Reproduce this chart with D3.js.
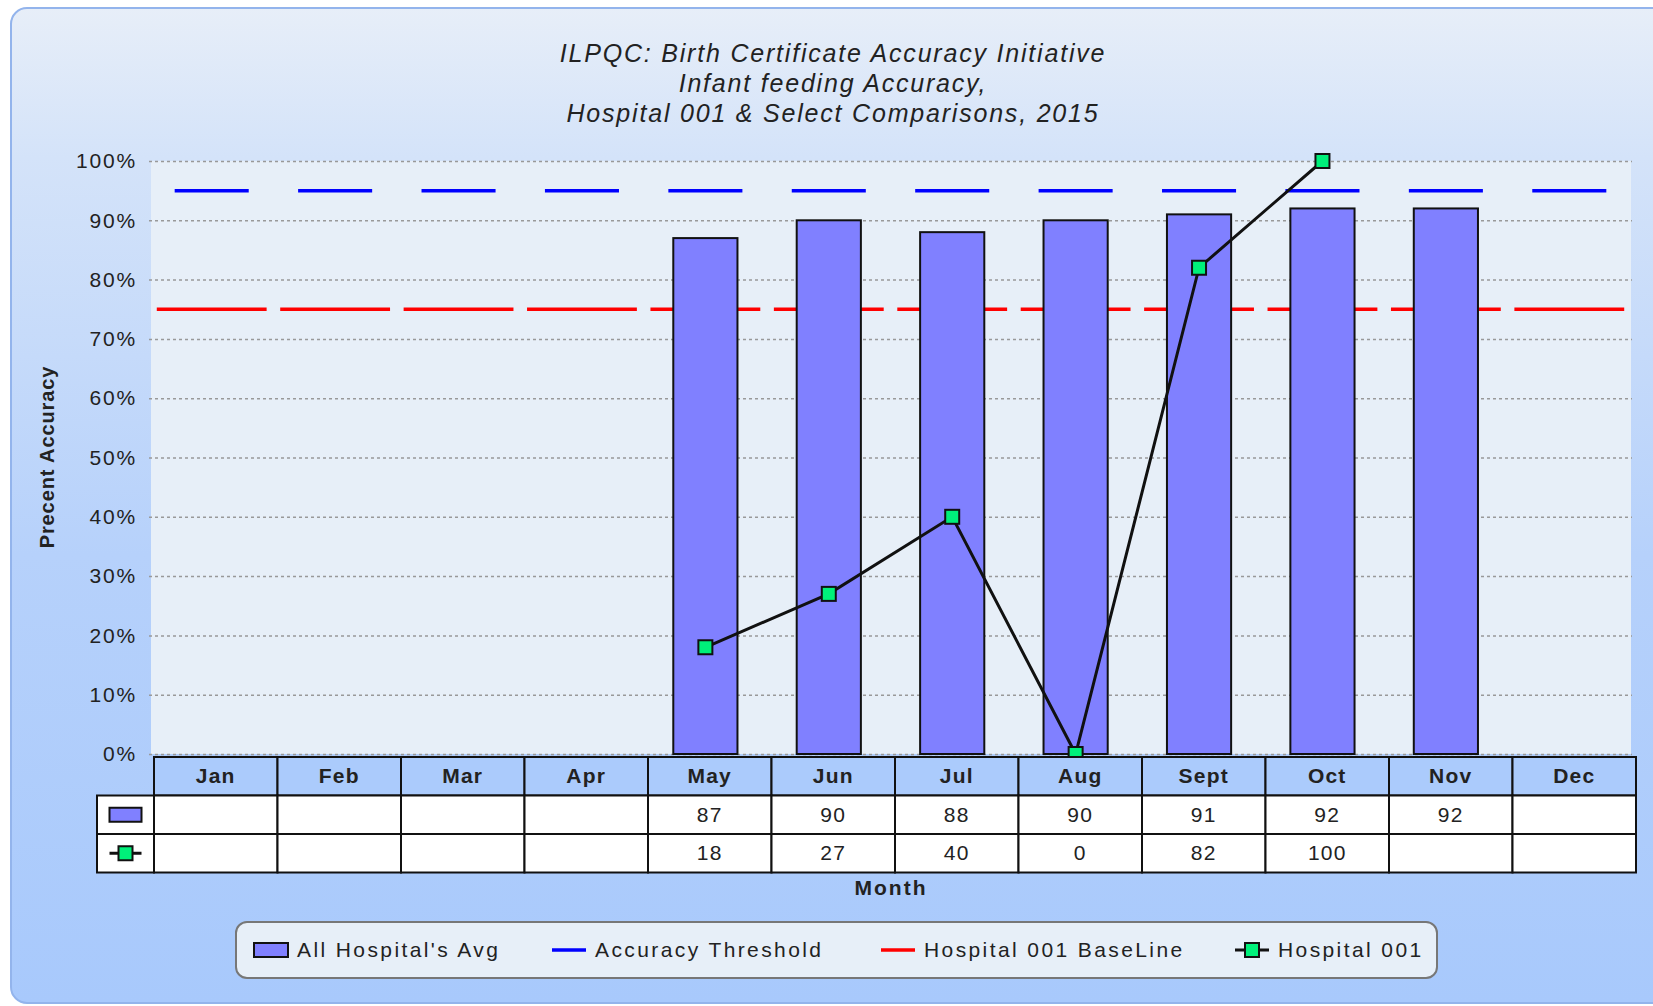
<!DOCTYPE html>
<html>
<head>
<meta charset="utf-8">
<script src="https://cdn.jsdelivr.net/npm/d3@7"></script>
<style>
  body { margin: 0; background: #fff; }
  svg text { font-family: "Liberation Sans", Arial, sans-serif; }
</style>
</head>
<body>
<svg id="chart" width="1653" height="1006"></svg>
<script>
const titleLines = [
  'ILPQC: Birth Certificate Accuracy Initiative',
  'Infant feeding Accuracy,',
  'Hospital 001 & Select Comparisons, 2015'
];
const months = ['Jan', 'Feb', 'Mar', 'Apr', 'May', 'Jun', 'Jul', 'Aug', 'Sept', 'Oct', 'Nov', 'Dec'];
const avgValues = [null, null, null, null, 87, 90, 88, 90, 91, 92, 92, null];
const hospValues = [null, null, null, null, 18, 27, 40, 0, 82, 100, null, null];
const thresholdValue = 95;
const baselineValue = 75;
const yTicks = [0, 10, 20, 30, 40, 50, 60, 70, 80, 90, 100];
const legendLabels = ["All Hospital's Avg", 'Accuracy Threshold', 'Hospital 001 BaseLine', 'Hospital 001'];

const svg = d3.select('#chart');

// background panel
const defs = svg.append('defs');
const grad = defs.append('linearGradient')
  .attr('id', 'panelGrad').attr('x1', 0).attr('y1', 0).attr('x2', 0).attr('y2', 1);
grad.append('stop').attr('offset', '0%').attr('stop-color', '#e7eef8');
grad.append('stop').attr('offset', '15%').attr('stop-color', '#d4e3f9');
grad.append('stop').attr('offset', '55%').attr('stop-color', '#b6d1fb');
grad.append('stop').attr('offset', '100%').attr('stop-color', '#a8c9fc');

svg.append('rect')
  .attr('x', 11).attr('y', 8)
  .attr('width', 1670).attr('height', 995)
  .attr('rx', 16)
  .attr('fill', 'url(#panelGrad)')
  .attr('stroke', '#93b4ec').attr('stroke-width', 2);

// title
svg.append('g')
  .selectAll('text')
  .data(titleLines)
  .join('text')
    .attr('x', 833)
    .attr('y', (d, i) => 62 + i * 30)
    .attr('text-anchor', 'middle')
    .attr('font-style', 'italic')
    .attr('font-size', 25)
    .attr('letter-spacing', 1.8)
    .attr('fill', '#222')
    .text(d => d);

// scales
const x = d3.scaleBand().domain(months).range([150, 1631]);
const xt = d3.scaleBand().domain(months).range([154, 1636]);
const y = d3.scaleLinear().domain([0, 100]).range([754, 161]);

// plot area
svg.append('rect')
  .attr('x', 151).attr('y', y(100))
  .attr('width', 1480).attr('height', y(0) - y(100))
  .attr('fill', '#e7eff8');

// grid + y axis
const yAxis = g => g
  .attr('transform', 'translate(149,0)')
  .call(d3.axisLeft(y).tickValues(yTicks).tickFormat(d => d + '%').tickSize(-1483).tickPadding(12))
  .call(g => g.select('.domain').remove())
  .call(g => g.selectAll('.tick line')
    .attr('stroke', '#999').attr('stroke-width', 1.5).attr('stroke-dasharray', '3,3'))
  .call(g => g.selectAll('.tick text')
    .attr('font-size', 21).attr('letter-spacing', 1.8).attr('fill', '#222')
    .attr('font-family', '"Liberation Sans", Arial, sans-serif'));
svg.append('g').call(yAxis);

// threshold / baseline dashes, one per month
svg.append('g')
  .selectAll('line')
  .data(months)
  .join('line')
    .attr('x1', d => x(d) + x.bandwidth() * 0.2)
    .attr('x2', d => x(d) + x.bandwidth() * 0.8)
    .attr('y1', y(thresholdValue)).attr('y2', y(thresholdValue))
    .attr('stroke', '#0000ff').attr('stroke-width', 3.5);

svg.append('g')
  .selectAll('line')
  .data(months)
  .join('line')
    .attr('x1', d => x(d) + x.bandwidth() * 0.055)
    .attr('x2', d => x(d) + x.bandwidth() * 0.945)
    .attr('y1', y(baselineValue)).attr('y2', y(baselineValue))
    .attr('stroke', '#ff0000').attr('stroke-width', 3.5);

// bars
const barW = x.bandwidth() * 0.52;
svg.append('g')
  .selectAll('rect')
  .data(months.map((m, i) => ({ m, v: avgValues[i] })).filter(d => d.v !== null))
  .join('rect')
    .attr('x', d => x(d.m) + (x.bandwidth() - barW) / 2)
    .attr('width', barW)
    .attr('y', d => y(d.v))
    .attr('height', d => y(0) - y(d.v))
    .attr('fill', '#8080ff')
    .attr('stroke', '#111').attr('stroke-width', 2);

// hospital line
const hospData = months.map((m, i) => ({ m, v: hospValues[i] })).filter(d => d.v !== null);
svg.append('path')
  .datum(hospData)
  .attr('fill', 'none')
  .attr('stroke', '#111').attr('stroke-width', 3)
  .attr('d', d3.line().x(d => x(d.m) + x.bandwidth() / 2).y(d => y(d.v)));

svg.append('g')
  .selectAll('rect')
  .data(hospData)
  .join('rect')
    .attr('x', d => x(d.m) + x.bandwidth() / 2 - 7)
    .attr('y', d => y(d.v) - 7)
    .attr('width', 14).attr('height', 14)
    .attr('fill', '#00f07a')
    .attr('stroke', '#111').attr('stroke-width', 2);

// data table
const headTop = 757, rowH = 38.5;
const iconX = 97;
const table = svg.append('g');

table.selectAll('rect.head')
  .data(months)
  .join('rect')
    .attr('class', 'head')
    .attr('x', d => xt(d)).attr('y', headTop)
    .attr('width', xt.bandwidth()).attr('height', rowH)
    .attr('fill', '#abcbfc').attr('stroke', '#111').attr('stroke-width', 2);

table.selectAll('text.head')
  .data(months)
  .join('text')
    .attr('class', 'head')
    .attr('x', d => xt(d) + xt.bandwidth() / 2)
    .attr('y', headTop + rowH / 2 + 7)
    .attr('text-anchor', 'middle')
    .attr('font-weight', 'bold').attr('font-size', 21).attr('letter-spacing', 1.2)
    .attr('fill', '#222')
    .text(d => d);

const rows = [avgValues, hospValues];
rows.forEach((vals, r) => {
  const ry = headTop + rowH * (r + 1);
  table.append('rect')
    .attr('x', iconX).attr('y', ry)
    .attr('width', xt(months[0]) - iconX).attr('height', rowH)
    .attr('fill', '#fff').attr('stroke', '#111').attr('stroke-width', 2);
  table.append('g')
    .selectAll('rect')
    .data(months)
    .join('rect')
      .attr('x', d => xt(d)).attr('y', ry)
      .attr('width', xt.bandwidth()).attr('height', rowH)
      .attr('fill', '#fff').attr('stroke', '#111').attr('stroke-width', 2);
  table.append('g')
    .selectAll('text')
    .data(months.map((m, i) => ({ m, v: vals[i] })).filter(d => d.v !== null))
    .join('text')
      .attr('x', d => xt(d.m) + xt.bandwidth() / 2)
      .attr('y', ry + rowH / 2 + 7)
      .attr('text-anchor', 'middle')
      .attr('font-size', 21).attr('letter-spacing', 1.2)
      .attr('fill', '#222')
      .text(d => d.v);
});

// table row icons
const iconCx = (iconX + xt(months[0])) / 2;
table.append('rect')
  .attr('x', iconCx - 16).attr('y', headTop + rowH * 1.5 - 7)
  .attr('width', 32).attr('height', 14)
  .attr('fill', '#8080ff').attr('stroke', '#111').attr('stroke-width', 2);
table.append('line')
  .attr('x1', iconCx - 16).attr('x2', iconCx + 16)
  .attr('y1', headTop + rowH * 2.5).attr('y2', headTop + rowH * 2.5)
  .attr('stroke', '#111').attr('stroke-width', 3);
table.append('rect')
  .attr('x', iconCx - 7).attr('y', headTop + rowH * 2.5 - 7)
  .attr('width', 14).attr('height', 14)
  .attr('fill', '#00f07a').attr('stroke', '#111').attr('stroke-width', 2);

// axis titles
svg.append('text')
  .attr('x', 891).attr('y', 895)
  .attr('text-anchor', 'middle')
  .attr('font-weight', 'bold').attr('font-size', 21).attr('letter-spacing', 2)
  .attr('fill', '#222')
  .text('Month');

svg.append('text')
  .attr('transform', 'translate(54,457) rotate(-90)')
  .attr('text-anchor', 'middle')
  .attr('font-weight', 'bold').attr('font-size', 20).attr('letter-spacing', 0.9)
  .attr('fill', '#222')
  .text('Precent Accuracy');

// legend
const legend = svg.append('g');
legend.append('rect')
  .attr('x', 236).attr('y', 922)
  .attr('width', 1201).attr('height', 56)
  .attr('rx', 11)
  .attr('fill', '#e7eff8')
  .attr('stroke', '#777').attr('stroke-width', 2);

const legX = [254, 552, 881, 1235];
const legY = 950;
const items = legend.selectAll('g.item')
  .data(legendLabels)
  .join('g')
    .attr('class', 'item')
    .attr('transform', (d, i) => `translate(${legX[i]},${legY})`);

items.filter((d, i) => i === 0).append('rect')
  .attr('x', 0).attr('y', -7).attr('width', 34).attr('height', 14)
  .attr('fill', '#8080ff').attr('stroke', '#111').attr('stroke-width', 2);
items.filter((d, i) => i === 1).append('line')
  .attr('x1', 0).attr('x2', 34).attr('y1', 0).attr('y2', 0)
  .attr('stroke', '#0000ff').attr('stroke-width', 3.5);
items.filter((d, i) => i === 2).append('line')
  .attr('x1', 0).attr('x2', 34).attr('y1', 0).attr('y2', 0)
  .attr('stroke', '#ff0000').attr('stroke-width', 3.5);
items.filter((d, i) => i === 3).append('line')
  .attr('x1', 0).attr('x2', 34).attr('y1', 0).attr('y2', 0)
  .attr('stroke', '#111').attr('stroke-width', 3);
items.filter((d, i) => i === 3).append('rect')
  .attr('x', 10).attr('y', -7).attr('width', 14).attr('height', 14)
  .attr('fill', '#00f07a').attr('stroke', '#111').attr('stroke-width', 2);

items.append('text')
  .attr('x', 43).attr('y', 7)
  .attr('font-size', 21).attr('letter-spacing', 2.4)
  .attr('fill', '#222')
  .text(d => d);
</script>
</body>
</html>
